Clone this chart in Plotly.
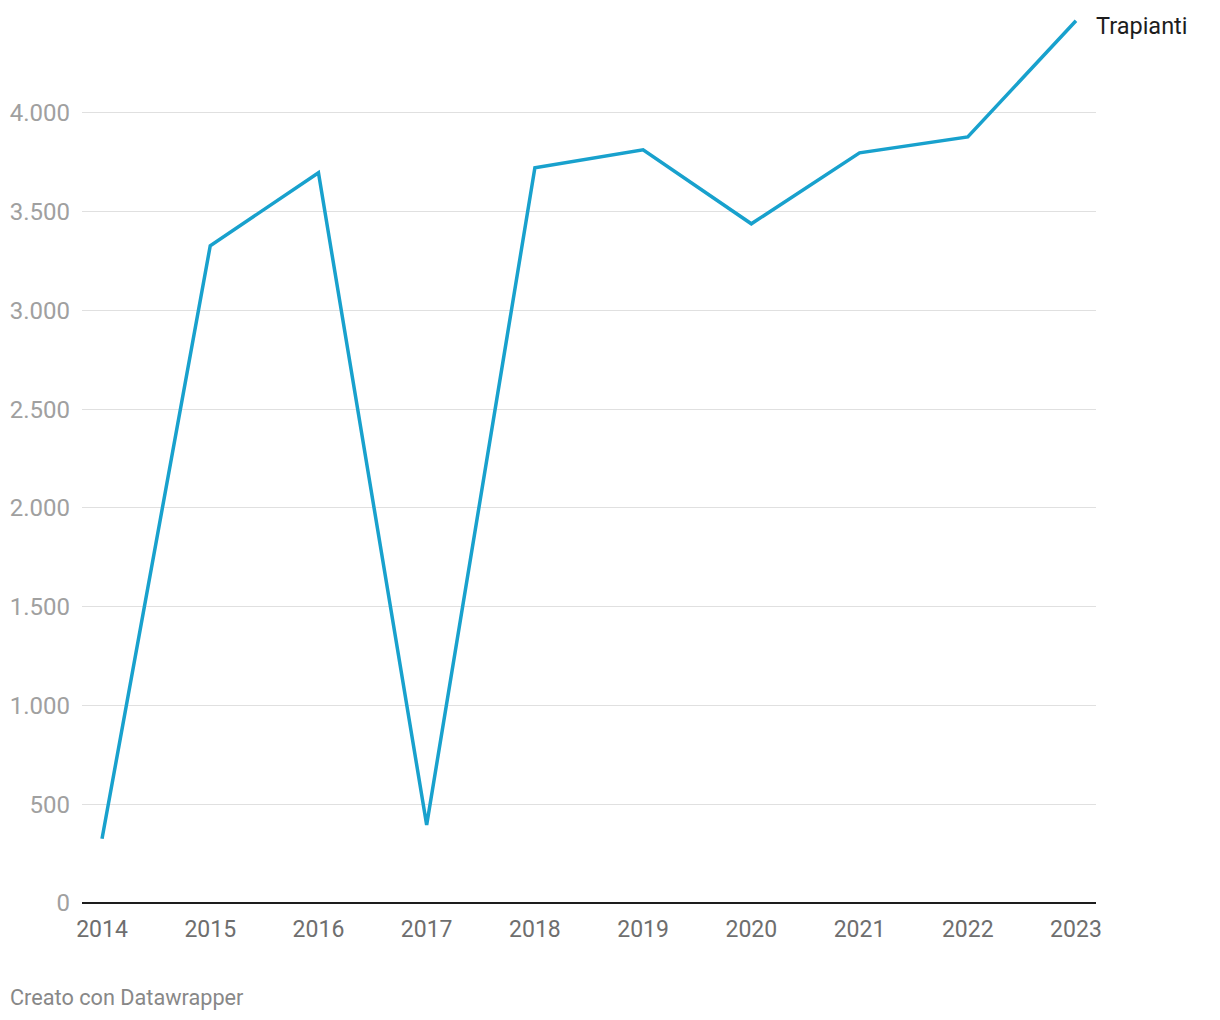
import plotly.graph_objects as go

years = [2014, 2015, 2016, 2017, 2018, 2019, 2020, 2021, 2022, 2023]
trapianti = [325, 3327, 3696, 395, 3722, 3813, 3438, 3797, 3878, 4466]
y_ticks = [0, 500, 1000, 1500, 2000, 2500, 3000, 3500, 4000]

fig = go.Figure()
fig.add_scatter(
    x=years,
    y=trapianti,
    mode="lines",
    line=dict(color="#18a1cd", width=3.5),
    name="Trapianti",
    showlegend=False,
)

# direct label at the end of the line
fig.add_annotation(
    x=years[-1], y=trapianti[-1], text="Trapianti",
    showarrow=False, xanchor="left", yanchor="middle",
    xshift=18, yshift=-5,
    font=dict(family="Roboto", size=23.5, color="#1d1d1d"),
)
fig.add_annotation(
    x=0, y=0, xref="paper", yref="paper", text="Creato con Datawrapper",
    showarrow=False, xanchor="left", yanchor="middle",
    xshift=-74, yshift=-94,
    font=dict(family="Roboto", size=21.7, color="#888888"),
)

# page body has an 8px margin, so shift the plot area back by 8px
fig.update_layout(
    width=1220, height=1020,
    margin=dict(l=74, r=132, t=6, b=125),
    paper_bgcolor="#ffffff", plot_bgcolor="#ffffff",
    separators=",.",
    font=dict(family="Roboto"),
)
fig.update_xaxes(
    range=[2013.815, 2023.185],
    tickvals=years,
    showgrid=False, zeroline=False,
    showline=False, automargin=False,
    ticks="", ticklabelstandoff=10,
    tickfont=dict(size=23, color="#6e6e6e"),
)
fig.update_yaxes(
    range=[0, 4500],
    tickvals=y_ticks, tickformat=",d",
    showgrid=True, gridcolor="#e0e0e0", gridwidth=1,
    zeroline=True, zerolinecolor="#1d1d1d", zerolinewidth=2,
    automargin=False,
    ticks="", ticklabelstandoff=11,
    tickfont=dict(size=24, color="#a0a0a0"),
)

fig.write_html("out.html")
